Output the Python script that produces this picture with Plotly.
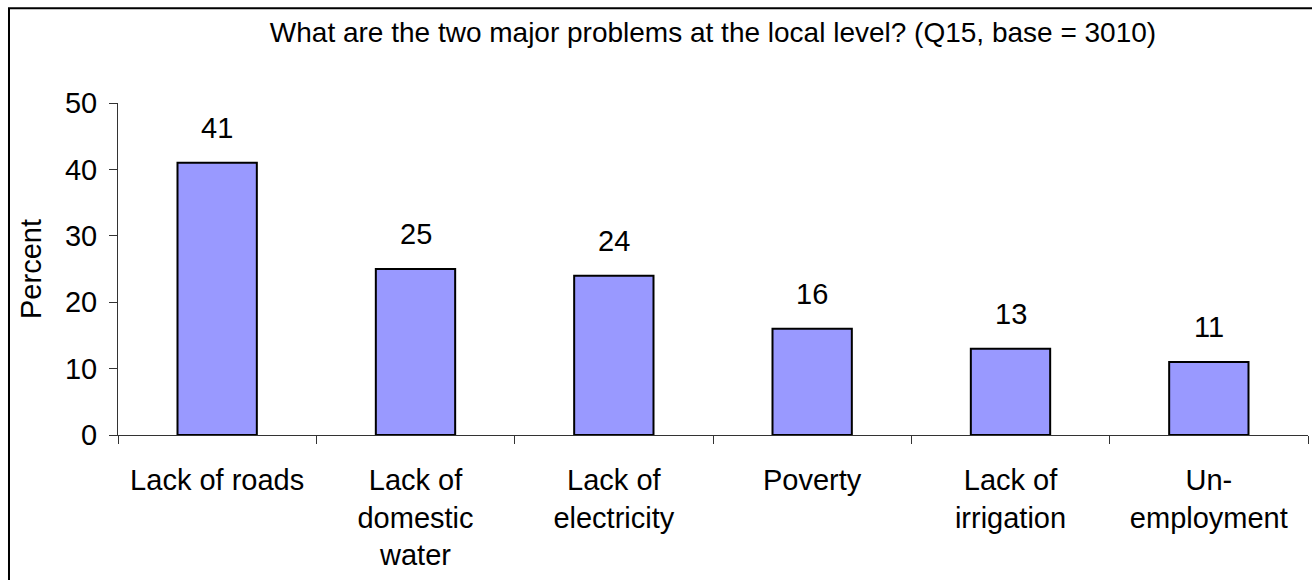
import plotly.graph_objects as go

categories = [
    "Lack of roads",
    "Lack of<br>domestic<br>water",
    "Lack of<br>electricity",
    "Poverty",
    "Lack of<br>irrigation",
    "Un-<br>employment",
]
percent = [41, 25, 24, 16, 13, 11]
y_ticks = [0, 10, 20, 30, 40, 50]

title_text = "What are the two major problems at the local level? (Q15, base = 3010)"
font_family = "Liberation Sans, Arial, sans-serif"

fig = go.Figure()
fig.add_trace(go.Bar(
    x=categories,
    y=percent,
    width=0.4,
    marker=dict(color="#9999FF", line=dict(color="#000000", width=2)),
    hoverinfo="skip",
))

# value labels above bars
for cat, v in zip(categories, percent):
    fig.add_annotation(
        x=cat, y=v, xref="x", yref="y", text=str(v), showarrow=False,
        yanchor="bottom", yshift=17,
        font=dict(family=font_family, size=29, color="#000000"),
    )

# outer chart frame (top and left edges visible)
fig.add_shape(
    type="rect", xref="paper", yref="paper",
    x0=-0.0916, x1=1.3, y0=-1.0, y1=1.2852,
    line=dict(color="#000000", width=2), fillcolor="rgba(0,0,0,0)",
    layer="below",
)

fig.update_layout(
    width=1312, height=580,
    margin=dict(l=118, r=4, t=103, b=145),
    paper_bgcolor="#FFFFFF", plot_bgcolor="#FFFFFF",
    showlegend=False,
    font=dict(family=font_family, size=29, color="#000000"),
    title=dict(
        text=title_text, x=0.5, xanchor="center", xref="paper",
        y=1 - 32 / 580, yanchor="middle", yref="container",
        font=dict(family=font_family, size=28, color="#000000"),
    ),
    xaxis=dict(
        type="category", categoryorder="array", categoryarray=categories,
        tickson="boundaries", ticks="outside", ticklen=8, tickcolor="#333333",
        showline=True, linecolor="#333333", linewidth=1,
        showgrid=False, zeroline=False,
        ticklabelstandoff=19,
        tickfont=dict(family=font_family, size=29, color="#000000"),
    ),
    yaxis=dict(
        range=[0, 50], tickmode="array", tickvals=y_ticks,
        ticks="outside", ticklen=8, tickcolor="#333333",
        showline=True, linecolor="#333333", linewidth=1,
        showgrid=False, zeroline=False,
        ticklabelstandoff=6,
        tickfont=dict(family=font_family, size=29, color="#000000"),
        title=dict(text="Percent", standoff=14,
                   font=dict(family=font_family, size=29, color="#000000")),
    ),
)

fig.write_html("out.html")
